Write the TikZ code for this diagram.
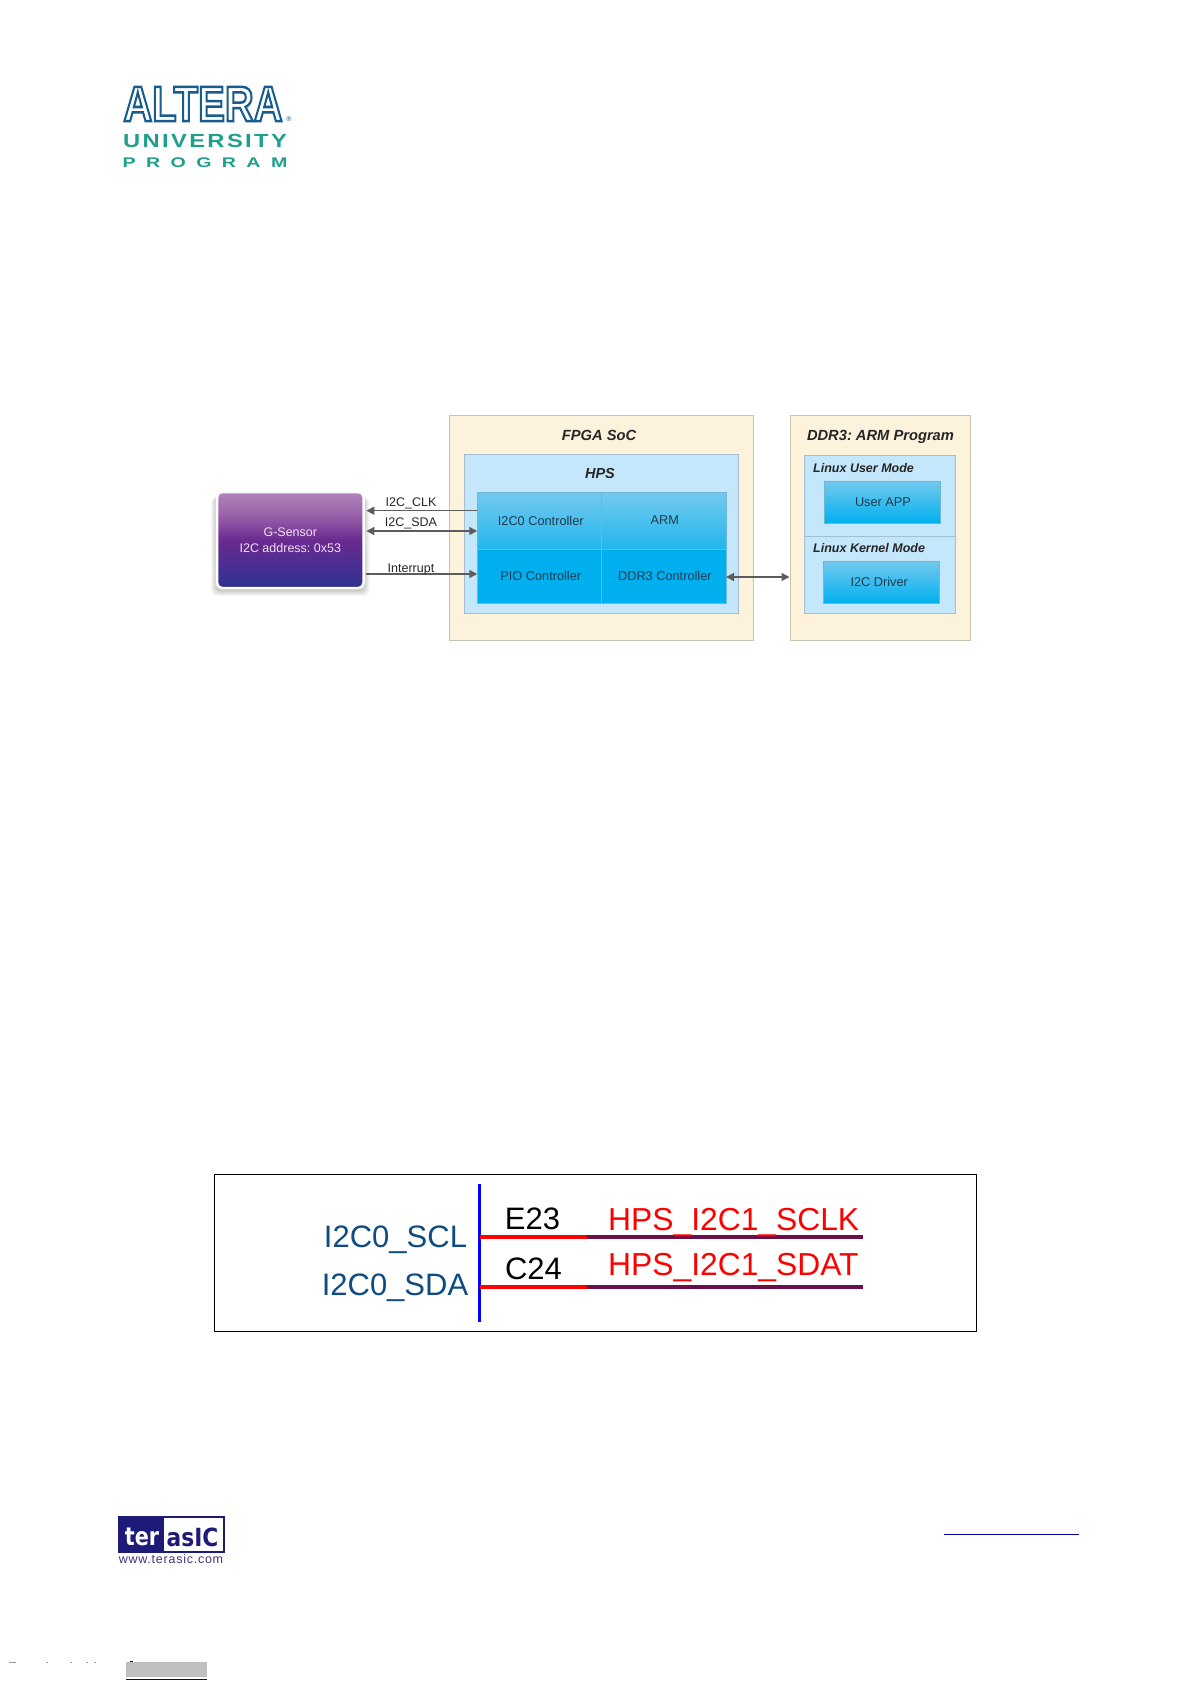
\documentclass[tikz,border=0pt]{standalone}
\usepackage{fontspec}
\setmainfont{Liberation Sans}
\newfontfamily\alterafont[BoldFeatures={FakeBold=5}]{Liberation Sans}
\newfontfamily\terafont{DejaVu Sans}
\usetikzlibrary{arrows.meta,calc}
\newcommand{\pxsize}[1]{\fontsize{#1}{#1}\selectfont}
\definecolor{cream}{HTML}{FDF2DC}
\definecolor{creamline}{HTML}{C9C3B0}
\definecolor{paleblue}{HTML}{C4E7FB}
\definecolor{palebline}{HTML}{A6BFCE}
\definecolor{blockline}{HTML}{6FB6D4}
\definecolor{bluetop}{HTML}{74C9EE}
\definecolor{bluemid}{HTML}{22B6EC}
\definecolor{bluelow}{HTML}{00B0EE}
\definecolor{blocktext}{HTML}{1F3A4F}
\definecolor{arrowgray}{HTML}{5C5C5C}
\definecolor{altblue}{HTML}{175C8E}
\definecolor{altteal}{HTML}{1FA08C}
\definecolor{tnavy}{HTML}{1E1A78}
\definecolor{schemblue}{HTML}{0F4C81}
\definecolor{wirepurple}{HTML}{6B0F4A}
\definecolor{sgA}{HTML}{B084BB}
\definecolor{sgB}{HTML}{9A62A9}
\definecolor{sgC}{HTML}{6B2A90}
\definecolor{sgD}{HTML}{4B2E92}
\definecolor{sgE}{HTML}{2E3192}
\pgfdeclareverticalshading{sensorgrad}{100bp}{color(0bp)=(sgE); color(25bp)=(sgE); color(37bp)=(sgD); color(50bp)=(sgC); color(63bp)=(sgB); color(75bp)=(sgA); color(100bp)=(sgA)}
\tikzset{
  x=1pt,y=-1pt,
  outerbox/.style={draw=creamline,fill=cream,line width=1pt,inner sep=0pt},
  panel/.style={draw=palebline,fill=paleblue,line width=1pt,inner sep=0pt},
  hiblock/.style={draw=blockline,line width=.5pt,inner sep=0pt,top color=bluetop,bottom color=bluemid,text=blocktext,font=\pxsize{12.75},execute at begin node=\kern2.5pt},
  loblock/.style={draw=blockline,line width=.5pt,inner sep=0pt,fill=bluelow,text=blocktext,font=\pxsize{12.75},execute at begin node=\kern2.5pt},
  gradblock/.style={draw=blockline,line width=.5pt,inner sep=0pt,top color=bluetop,bottom color=bluelow,text=blocktext,font=\pxsize{12.75}},
  titletext/.style={inner sep=0pt,text=black!85,font=\pxsize{14.7}\bfseries\itshape},
  modetext/.style={inner sep=0pt,anchor=west,text=black!85,font=\pxsize{12.5}\bfseries\itshape},
  siglabel/.style={inner sep=0pt,text=black!85,font=\pxsize{12.5}},
  arrowline/.style={draw=arrowgray,line width=1.5pt,{Triangle[length=8pt,width=8pt]}-{Triangle[length=8pt,width=8pt]}},
  onearrow/.style={draw=arrowgray,line width=1.5pt,-{Triangle[length=8pt,width=8pt]}},
  schemlabel/.style={inner sep=0pt,font=\pxsize{31}},
  redwire/.style={draw=red,line width=4pt},
  purplewire/.style={draw=wirepurple,line width=4pt},
}
\begin{document}
\begin{tikzpicture}
\frenchspacing
\useasboundingbox (0,0) rectangle (1191,1684);
\fill[white] (0,0) rectangle (1191,1684);

% Altera logo
\node[inner sep=0pt] (altera) at (203,104) {\scalebox{.8}[1]{\alterafont\bfseries\pxsize{50}\color{white}\special{pdf:code 0.09 0.36 0.56 RG}ALTERA}};
\node[inner sep=0pt,text=altblue,font=\pxsize{7}] (regmark) at (289,119) {®};
\node[inner sep=0pt,text=altteal,font=\pxsize{19}\bfseries] (univ) at (205,140.5) {\scalebox{1.25}[1]{\addfontfeature{LetterSpace=10}UNIVERSITY}};
\node[inner sep=0pt,text=altteal,font=\pxsize{14}\bfseries] (prog) at (205,163) {\scalebox{1.4}[1]{\addfontfeature{LetterSpace=53}PROGRAM}};

% FPGA SoC
\node[outerbox,minimum width=304.6pt,minimum height=225.5pt] (fpga) at (601.3,528.2) {};
\node[titletext] (fpgat) at (599,435) {FPGA SoC};
\node[panel,minimum width=273.4pt,minimum height=158.7pt] (hps) at (601.3,534.3) {};
\node[titletext,font=\pxsize{14.5}\bfseries\itshape] (hpst) at (600,474) {HPS};
\node[hiblock,minimum width=124pt,minimum height=57pt] (i2c) at (539.5,520.5) {I2C0 Controller};
\node[hiblock,minimum width=124.3pt,minimum height=57pt] (arm) at (663.6,520.5) {ARM};
\node[loblock,minimum width=124pt,minimum height=54pt] (pio) at (539.5,576) {PIO Controller};
\node[loblock,minimum width=124.3pt,minimum height=54pt] (ddrc) at (663.6,576) {DDR3 Controller};

% DDR3 panel
\node[outerbox,minimum width=180pt,minimum height=225.5pt] (ddr) at (880,528.2) {};
\node[titletext] (ddrt) at (880.5,437) {DDR3: ARM Program};
\node[panel,minimum width=150.7pt,minimum height=81pt] (user) at (880.3,495.5) {};
\node[panel,minimum width=150.7pt,minimum height=77.7pt] (kern) at (880.3,574.9) {};
\node[modetext] (usert) at (813,468) {Linux User Mode};
\node[modetext] (kernt) at (813,548) {Linux Kernel Mode};
\node[gradblock,minimum width=116pt,minimum height=41.7pt] (app) at (882,501.9) {\kern2pt User APP};
\node[gradblock,minimum width=115.7pt,minimum height=42pt] (drv) at (881.2,582) {\kern-4pt I2C Driver};

% G-Sensor
\foreach \g in {7,6,5,4,3,2,1}
  \fill[black,opacity=.035,rounded corners=6pt] (218-\g,493+\g-2) rectangle (362.5+\g,587+\g+2);
\node[draw=white,line width=2.5pt,rounded corners=5pt,inner sep=0pt,shading=sensorgrad,
  minimum width=146.5pt,minimum height=96pt,align=center,text=white!88!violet,font=\pxsize{12.5}] (sensor) at (290.3,540) {G-Sensor\\[3.5pt]I2C address: 0x53};

% connectors
\coordinate (yclk) at (0,510.7);
\coordinate (ysda) at (0,531);
\coordinate (yint) at (0,574);
\coordinate (yddr) at (0,577);
\draw[onearrow,shorten >=1.5pt] (i2c.west |- yclk) -- (sensor.east |- yclk);
\draw[arrowline,shorten <=1.5pt] (sensor.east |- ysda) -- (i2c.west |- ysda);
\draw[onearrow,shorten <=1.5pt] (sensor.east |- yint) -- (pio.west |- yint);
\draw[arrowline] (ddrc.east |- yddr) -- (ddr.west |- yddr);
\node[siglabel] (clkl) at (411,503) {I2C\_CLK};
\node[siglabel] (sdal) at (411,523) {I2C\_SDA};
\node[siglabel] (intl) at (411,569) {Interrupt};

% pin schematic
\node[draw=black,line width=1pt,inner sep=0pt,minimum width=762.5pt,minimum height=157pt] (frame) at (595.3,1252.5) {};
\coordinate (bust) at (479.6,1184);
\coordinate (busb) at (479.6,1321.7);
\draw[draw=blue,line width=3pt] (bust) -- (busb);
\coordinate (w1a) at (479.6,1237);
\coordinate (w1b) at (586.7,1237);
\coordinate (w1c) at (862.8,1237);
\coordinate (w2a) at (479.6,1286.7);
\coordinate (w2b) at (586.7,1286.7);
\coordinate (w2c) at (862.8,1286.7);
\draw[purplewire] (w1b) -- (w1c);
\draw[redwire] (w1a) -- (w1b);
\draw[purplewire] (w2b) -- (w2c);
\draw[redwire] (w2a) -- (w2b);
\node[schemlabel,text=schemblue] (scl) at (395.5,1240) {I2C0\_SCL};
\node[schemlabel,text=schemblue] (sda) at (395,1288) {I2C0\_SDA};
\node[schemlabel,text=black] (e23) at (532.5,1219) {E23};
\node[schemlabel,text=black] (c24) at (533.5,1269) {C24};
\node[schemlabel,font=\pxsize{31.8},text=red,anchor=west] (sclk) at (608,1223) {HPS\_I2C1\_SCLK};
\node[schemlabel,font=\pxsize{31.8},text=red,anchor=west] (sdat) at (608,1268) {HPS\_I2C1\_SDAT};

% Terasic logo
\node[fill=tnavy,inner sep=0pt,minimum width=106.7pt,minimum height=37pt] (tbox) at (171.7,1534.5) {};
\node[fill=white,inner sep=0pt,minimum width=58.4pt,minimum height=33pt] (twhite) at (193.5,1534.5) {};
\node[inner sep=0pt,text=white,font=\terafont\pxsize{25}\bfseries] (tter) at (142,1537) {\scalebox{.83}[1]{ter}};
\node[inner sep=0pt,text=tnavy,font=\terafont\pxsize{25}\bfseries] (tasic) at (192.5,1537) {\scalebox{.87}[1]{asIC}};
\node[inner sep=0pt,text=tnavy!70!gray,font=\pxsize{12.5}] (turl) at (171,1559) {\addfontfeature{LetterSpace=6}www.terasic.com};

% footer
\coordinate (ulA) at (944,1534.3);
\coordinate (ulB) at (1079,1534.3);
\draw[draw=blue!60!black,line width=1.2pt] (ulA) -- (ulB);
\foreach \a/\b in {9/16,46/48,70/72,86/88,94/96}
  \fill[black!40] (\a,1661.7) rectangle (\b,1663);
\fill[blue!60!black] (130,1661) rectangle (133,1662);
\fill[black!25] (126,1662) rectangle (207,1677);
\coordinate (ulC) at (126,1679.3);
\coordinate (ulD) at (207,1679.3);
\draw[draw=blue!60!black,line width=1pt] (ulC) -- (ulD);
\end{tikzpicture}
\end{document}
